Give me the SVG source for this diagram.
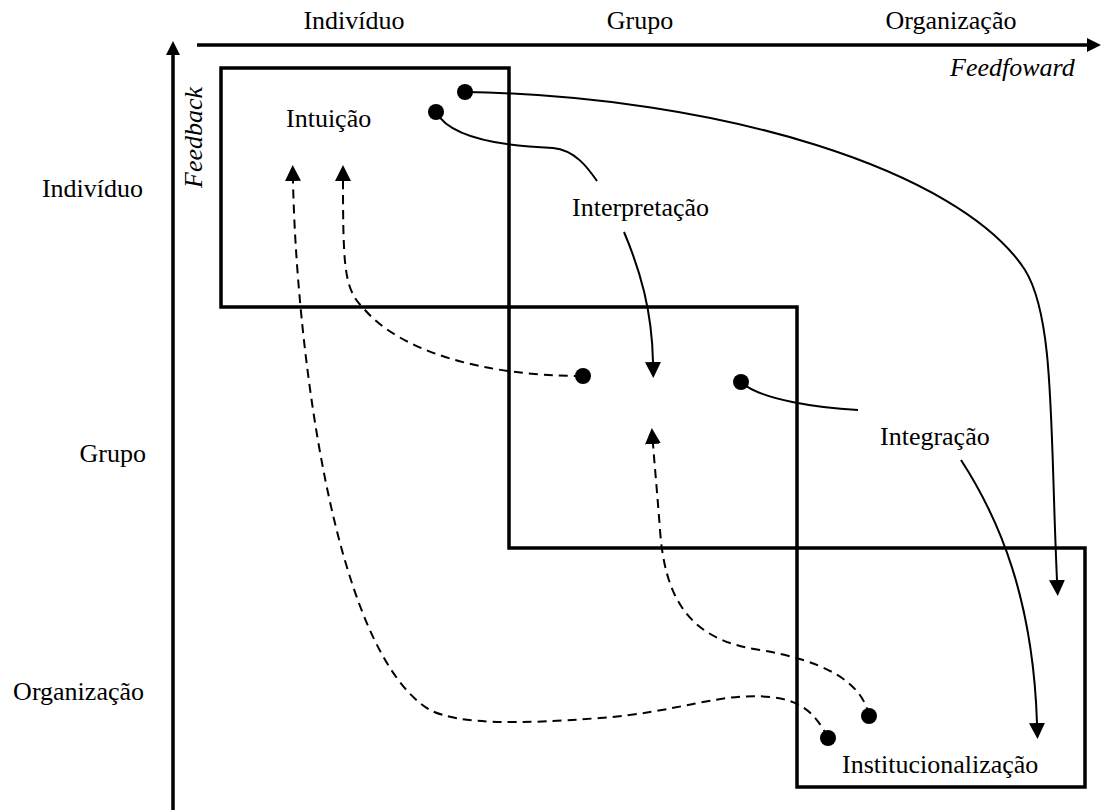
<svg xmlns="http://www.w3.org/2000/svg" width="1101" height="810" viewBox="0 0 1101 810">
<style>
text{font-family:"Liberation Serif","Times New Roman",Times,serif;font-size:26px;fill:#000}
.it{font-style:italic}
.box{fill:none;stroke:#000;stroke-width:3.5}
.axis{stroke:#000;stroke-width:3.5;fill:none}
.solid{fill:none;stroke:#000;stroke-width:2}
.dash{fill:none;stroke:#000;stroke-width:2;stroke-dasharray:9,6}
</style>
<defs>
<marker id="ah" viewBox="0 0 16 16" refX="0" refY="8" markerWidth="16" markerHeight="16" markerUnits="userSpaceOnUse" orient="auto">
<path d="M0,0 L16,8 L0,16 Z" fill="#000"/>
</marker>
<marker id="axh" viewBox="0 0 14 14" refX="0" refY="7" markerWidth="14" markerHeight="14" markerUnits="userSpaceOnUse" orient="auto">
<path d="M0,0 L14,7 L0,14 Z" fill="#000"/>
</marker>
</defs>
<rect width="1101" height="810" fill="#fff"/>
<g id="axes">
<line class="axis" x1="197" y1="45" x2="1087" y2="45" marker-end="url(#axh)"/>
<line class="axis" x1="173" y1="810" x2="173" y2="55" marker-end="url(#axh)"/>
<text x="354" y="29" text-anchor="middle">Indivíduo</text>
<text x="640" y="29" text-anchor="middle">Grupo</text>
<text x="951" y="29" text-anchor="middle">Organização</text>
<text class="it" x="950" y="76">Feedfoward</text>
<text class="it" transform="translate(202,188) rotate(-90)">Feedback</text>
<text x="143" y="197" text-anchor="end">Indivíduo</text>
<text x="146" y="462" text-anchor="end">Grupo</text>
<text x="144" y="700" text-anchor="end">Organização</text>
</g>
<g id="box-individuo"><rect class="box" x="221" y="68" width="288" height="239"/></g>
<g id="box-grupo"><rect class="box" x="509" y="307" width="288" height="241"/></g>
<g id="box-organizacao"><rect class="box" x="797" y="548" width="288" height="239"/></g>
<g id="intuicao"><text x="286" y="127">Intuição</text></g>
<g id="interpretacao"><text x="572" y="216">Interpretação</text></g>
<g id="integracao"><text x="880" y="445">Integração</text></g>
<g id="institucionalizacao"><text x="842" y="773">Institucionalização</text></g>
<g id="connectors">
<path class="solid" d="M465,92 C720,96 960,170 1025,270 C1055,318 1050,430 1057,580" marker-end="url(#ah)"/>
<path class="solid" d="M436,112 C450,138 500,146 553,148 C575,150 588,168 597,181"/>
<path class="solid" d="M624,232 C640,270 652,310 653,362" marker-end="url(#ah)"/>
<path class="solid" d="M741,382 C760,400 820,408 858,410"/>
<path class="solid" d="M961,460 C1000,520 1033,600 1037,723" marker-end="url(#ah)"/>
<path class="dash" d="M583,376 C480,376 400,350 365,310 C345,290 343,275 343,181" marker-end="url(#ah)"/>
<path class="dash" d="M869,716 C862,680 820,660 760,650 C690,640 665,600 660,530 C657,490 655,470 653,444" marker-end="url(#ah)"/>
<path class="dash" d="M828,738 C815,712 800,700 770,697 C720,692 680,712 600,718 C520,724 460,725 430,710 C330,650 296,330 293,181" marker-end="url(#ah)"/>
<circle cx="465" cy="92" r="8"/>
<circle cx="436" cy="112" r="8"/>
<circle cx="741" cy="382" r="8"/>
<circle cx="583" cy="376" r="8"/>
<circle cx="869" cy="716" r="8"/>
<circle cx="828" cy="738" r="8"/>
</g>
</svg>
